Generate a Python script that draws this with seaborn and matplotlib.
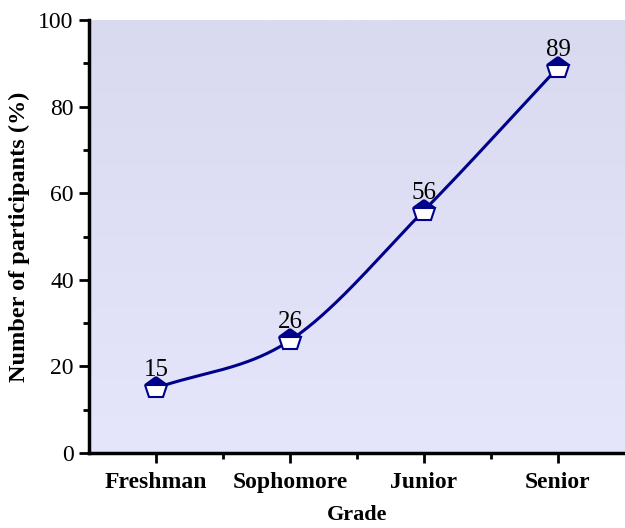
import numpy as np
import pandas as pd
import seaborn as sns
import matplotlib.pyplot as plt
from matplotlib.colors import LinearSegmentedColormap

sns.set_theme(style="ticks")
plt.rcParams["font.family"] = ["Liberation Serif", "DejaVu Serif"]
plt.rcParams["text.color"] = "black"
plt.rcParams["xtick.color"] = "black"
plt.rcParams["ytick.color"] = "black"
plt.rcParams["axes.labelcolor"] = "black"

grades = ["Freshman", "Sophomore", "Junior", "Senior"]
participants = [15, 26, 56, 89]
yticks = [0, 20, 40, 60, 80, 100]

df = pd.DataFrame({"Grade": grades, "Participants": participants})
navy = "#00008B"


def smooth_curve(x, y, n=200):
    # cubic Hermite (Catmull-Rom style) smoothing through the data points
    x = np.asarray(x, float)
    y = np.asarray(y, float)
    m = np.gradient(y, x)
    xs, ys = [], []
    for i in range(len(x) - 1):
        t = np.linspace(0, 1, n)
        h = x[i + 1] - x[i]
        h00 = 2 * t**3 - 3 * t**2 + 1
        h10 = t**3 - 2 * t**2 + t
        h01 = -2 * t**3 + 3 * t**2
        h11 = t**3 - t**2
        xs.append(x[i] + t * h)
        ys.append(h00 * y[i] + h10 * h * m[i] + h01 * y[i + 1] + h11 * h * m[i + 1])
    return np.concatenate(xs), np.concatenate(ys)


fig = plt.figure(figsize=(6.25, 5.28), dpi=100)
ax = fig.add_axes([89 / 625, 1 - 453 / 528, 1 - 89 / 625, 433 / 528])

xpos = np.arange(len(grades))
cx, cy = smooth_curve(xpos, df["Participants"])
sns.lineplot(x=cx, y=cy, ax=ax, color=navy, linewidth=2.2, zorder=3)
ax.plot(xpos, df["Participants"], linestyle="none", marker="p", markersize=16,
        fillstyle="top", markerfacecolor=navy, markerfacecoloralt="white",
        markeredgecolor=navy, markeredgewidth=1.5, zorder=4)

for x, v in zip(xpos, participants):
    ax.annotate(str(v), (x, v), xytext=(0, 5), textcoords="offset points",
                ha="center", va="bottom", fontsize=18)

# gradient background
cmap = LinearSegmentedColormap.from_list("bg", ["#E5E5FC", "#D9D9EF"])
grad = np.linspace(0, 1, 256).reshape(-1, 1)
ax.imshow(grad, cmap=cmap, aspect="auto", origin="lower",
          extent=[-0.5, 3.5, 0, 100], zorder=0)

ax.set_xlim(-0.5, 3.5)
ax.set_ylim(0, 100)
ax.set_xticks(xpos)
ax.set_xticklabels(grades, fontsize=17, fontweight="bold")
ax.set_xticks(xpos[:-1] + 0.5, minor=True)
ax.set_yticks(yticks)
ax.set_yticklabels([str(t) for t in yticks], fontsize=17)
ax.set_yticks(np.arange(10, 100, 20), minor=True)

ax.tick_params(axis="x", which="major", direction="out", length=7, width=2, pad=7)
ax.tick_params(axis="y", which="major", direction="out", length=7, width=2, pad=4)
ax.tick_params(axis="both", which="minor", direction="out", length=4, width=2)
ax.set_xlabel("Grade", fontsize=16, fontweight="bold", labelpad=8)
ax.set_ylabel("Number of participants (%)", fontsize=17.5, fontweight="bold", labelpad=6)

for s in ["top", "right"]:
    ax.spines[s].set_visible(False)
for s in ["left", "bottom"]:
    ax.spines[s].set_linewidth(2.5)
    ax.spines[s].set_color("black")

fig.savefig("out.png", dpi=100)
